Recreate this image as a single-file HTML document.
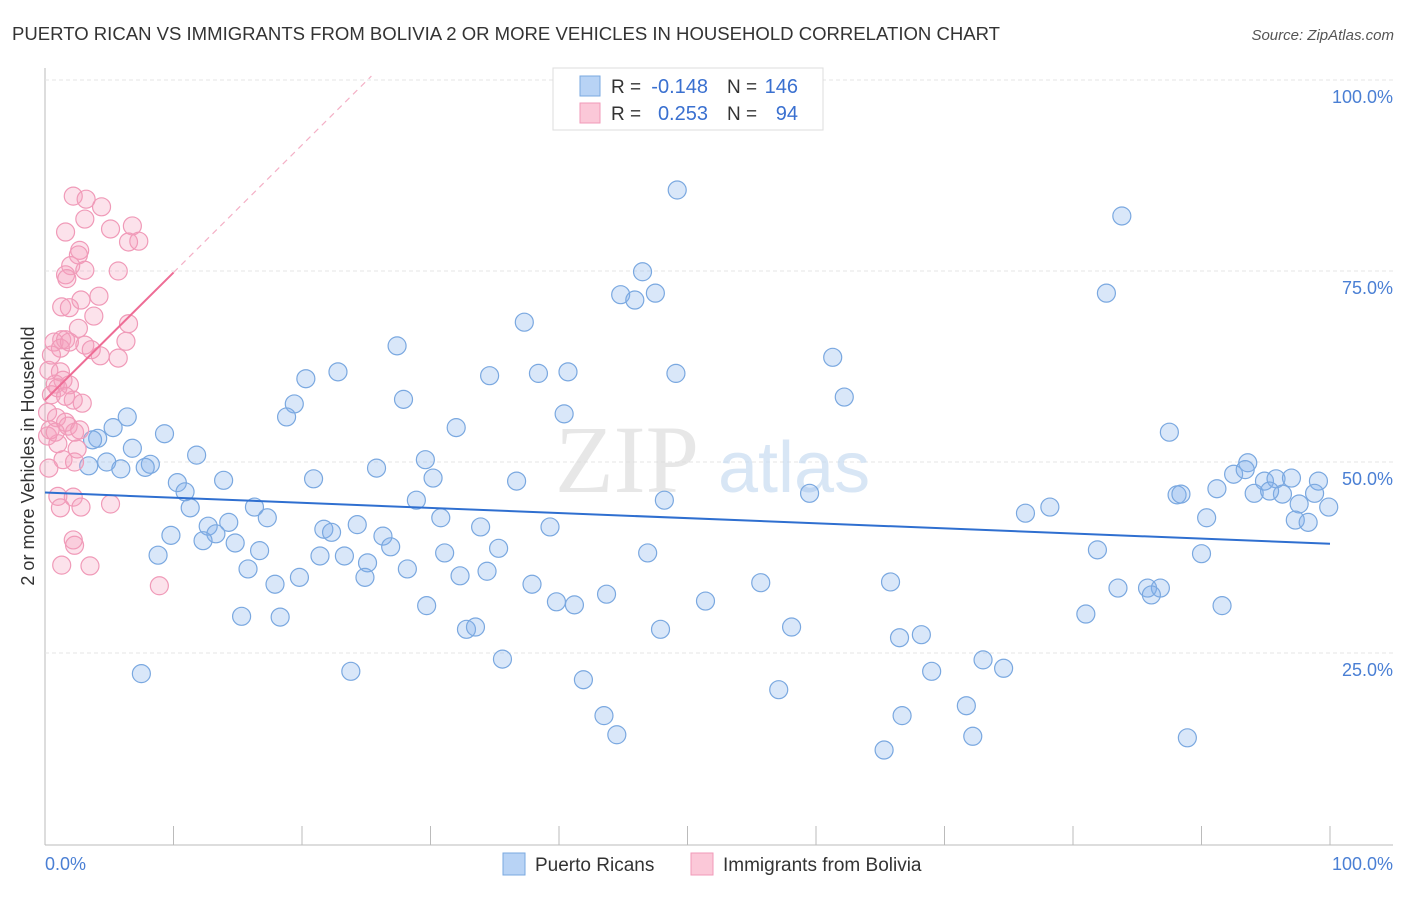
<!DOCTYPE html>
<html><head><meta charset="utf-8"><style>
body{margin:0;background:#fff;font-family:"Liberation Sans",sans-serif}
</style></head><body>
<svg width="1406" height="892" xmlns="http://www.w3.org/2000/svg" font-family="Liberation Sans, sans-serif">
<text x="12" y="40" font-size="18" fill="#333" textLength="988" lengthAdjust="spacingAndGlyphs">PUERTO RICAN VS IMMIGRANTS FROM BOLIVIA 2 OR MORE VEHICLES IN HOUSEHOLD CORRELATION CHART</text>
<text x="1394" y="40" font-size="15" fill="#555" font-style="italic" text-anchor="end">Source: ZipAtlas.com</text>
<g id="grid"></g>
<text x="555" y="492" font-size="96" fill="#ddd" font-family="Liberation Serif, serif" opacity="0.7">ZIP</text>
<text x="718" y="492" font-size="72" fill="#c8dcf2" opacity="0.7">atlas</text>
<g id="pts"></g>
<g id="lines"></g>
<text transform="translate(34,456) rotate(-90)" font-size="18" fill="#333" text-anchor="middle">2 or more Vehicles in Household</text>
<text x="45" y="870" font-size="18" fill="#4a7fd4">0.0%</text>
<text x="1393" y="870" font-size="18" fill="#4a7fd4" text-anchor="end">100.0%</text>
<g>
<rect x="553" y="68" width="270" height="62" fill="#fff" stroke="#ddd"/>
<rect x="580" y="76" width="20" height="20" fill="#b8d3f5" stroke="#7aa8e0"/>
<rect x="580" y="103" width="20" height="20" fill="#fbc8d8" stroke="#f09ab8"/>
<text x="611" y="93" font-size="19" fill="#333">R =</text>
<text x="708" y="93" font-size="20" fill="#3a70d0" text-anchor="end">-0.148</text>
<text x="727" y="93" font-size="19" fill="#333">N =</text>
<text x="798" y="93" font-size="20" fill="#3a70d0" text-anchor="end">146</text>
<text x="611" y="120" font-size="19" fill="#333">R =</text>
<text x="708" y="120" font-size="20" fill="#3a70d0" text-anchor="end">0.253</text>
<text x="727" y="120" font-size="19" fill="#333">N =</text>
<text x="798" y="120" font-size="20" fill="#3a70d0" text-anchor="end">94</text>
</g>
<g>
<rect x="503" y="853" width="22" height="22" fill="#b8d3f5" stroke="#7aa8e0"/>
<text x="535" y="871" font-size="19" fill="#333">Puerto Ricans</text>
<rect x="691" y="853" width="22" height="22" fill="#fbc8d8" stroke="#f09ab8"/>
<text x="723" y="871" font-size="19" fill="#333">Immigrants from Bolivia</text>
</g>
</svg>
<script>
const yTicks=[25,50,75,100];
const xTicks=[0,10,20,30,40,50,60,70,80,90,100];
const blueTrend=[46.0,39.3];
const pinkTrend=[58.1,74.8];
const bluePx=[[677,190],[1122,216],[642,272],[621,295],[635,300],[655,293],[1107,293],[524,322],[397,346],[833,357],[338,372],[306,379],[489,376],[538,373],[568,372],[676,373],[403,399],[844,397],[294,404],[286,417],[564,414],[127,417],[456,428],[113,428],[98,438],[93,440],[1169,432],[165,434],[132,448],[197,455],[107,462],[151,464],[145,467],[121,469],[89,466],[425,460],[377,468],[223,480],[433,478],[313,479],[516,481],[177,483],[185,492],[416,500],[664,500],[810,493],[1050,507],[1025,513],[1177,495],[1181,494],[1217,489],[1233,474],[1248,463],[1245,470],[1264,481],[1276,479],[1291,478],[1283,494],[1254,493],[1270,491],[1299,504],[1318,481],[1315,493],[1329,507],[1295,520],[1308,522],[1207,518],[190,508],[255,507],[267,518],[229,522],[208,526],[216,534],[171,535],[441,518],[480,527],[550,527],[324,529],[332,532],[357,525],[383,536],[235,543],[260,551],[391,547],[498,548],[203,541],[158,555],[320,556],[344,556],[445,553],[648,553],[1098,550],[1202,554],[248,569],[367,563],[407,569],[487,571],[460,576],[365,577],[300,577],[275,584],[532,584],[761,583],[891,582],[1148,588],[1161,588],[1118,588],[1152,595],[606,594],[557,602],[574,605],[705,601],[427,606],[241,616],[280,617],[1086,614],[1222,606],[466,629],[475,627],[661,629],[792,627],[899,638],[922,635],[502,659],[983,660],[1003,668],[141,674],[351,671],[932,671],[584,680],[779,690],[604,716],[902,716],[966,706],[617,735],[973,736],[1188,738],[884,750]];
const pinkPx=[[73,196],[86,199],[101,207],[85,219],[66,232],[111,229],[133,226],[129,242],[139,241],[80,250],[79,255],[71,266],[85,270],[118,271],[65,275],[67,279],[81,300],[99,296],[62,307],[70,308],[94,316],[128,324],[78,328],[62,340],[54,342],[66,340],[85,345],[126,341],[60,348],[91,350],[100,356],[118,358],[49,370],[60,372],[63,380],[55,384],[70,385],[51,395],[73,400],[82,403],[48,412],[56,418],[68,426],[74,432],[48,436],[58,444],[77,449],[63,460],[75,462],[49,468],[58,496],[73,497],[81,507],[110,504],[60,508],[73,540],[75,545],[62,565],[90,566],[160,586],[50,430],[66,422],[55,432],[80,430],[52,355],[70,342],[58,388],[66,396]];
const r1=v=>Math.round(v*10)/10;
const blueX=bluePx.map(p=>r1((p[0]-45)/12.85)), blueY=bluePx.map(p=>r1((844-p[1])/7.64));
const pinkX=pinkPx.map(p=>r1((p[0]-45)/12.85)), pinkY=pinkPx.map(p=>r1((844-p[1])/7.64));
const X=v=>45+v*12.85, Y=v=>844-v*7.64;
const NS='http://www.w3.org/2000/svg';
function mk(t,a,parent){const e=document.createElementNS(NS,t);for(const k in a)e.setAttribute(k,a[k]);parent.appendChild(e);return e;}
const grid=document.getElementById('grid');
const ax=mk('line',{x1:45,y1:68,x2:45,y2:845,stroke:'#bbb'},grid);

const bx=mk('line',{x1:45,y1:845,x2:1393,y2:845,stroke:'#bbb'},grid);

yTicks.forEach(t=>{
 const g=mk('line',{x1:45,y1:Y(t),x2:1393,y2:Y(t),stroke:'#e4e4e4','stroke-dasharray':'4,3'},grid);
 
 const l=mk('text',{x:1393,y:Y(t)+23,'font-size':18,fill:'#4a7fd4','text-anchor':'end'},grid);
 l.textContent=t.toFixed(1)+'%';
 
});
xTicks.forEach(t=>{
 const k=mk('line',{x1:X(t),y1:826,x2:X(t),y2:845,stroke:'#bbb'},grid);
 
});
const pts=document.getElementById('pts');
blueX.forEach((x,i)=>{const c=mk('circle',{cx:X(x),cy:Y(blueY[i]),r:9,fill:'rgba(130,175,235,0.3)',stroke:'#7aa8e0','stroke-width':1.2},pts);
 });
pinkX.forEach((x,i)=>{const c=mk('circle',{cx:X(x),cy:Y(pinkY[i]),r:9,fill:'rgba(245,160,190,0.3)',stroke:'#f09ab8','stroke-width':1.2},pts);
 });
const lines=document.getElementById('lines');
const bl=mk('line',{x1:X(0),y1:Y(blueTrend[0]),x2:X(100),y2:Y(blueTrend[1]),stroke:'#2f6fd0','stroke-width':2},lines);

const slope=(pinkTrend[1]-pinkTrend[0])/10;
const pd=mk('line',{x1:X(10),y1:Y(pinkTrend[1]),x2:X(25.4),y2:Y(pinkTrend[0]+slope*25.4),stroke:'#f4b0c6','stroke-width':1.2,'stroke-dasharray':'6,5'},lines);

const pl=mk('line',{x1:X(0),y1:Y(pinkTrend[0]),x2:X(10),y2:Y(pinkTrend[1]),stroke:'#ee6d96','stroke-width':2},lines);

</script>
</body></html>
